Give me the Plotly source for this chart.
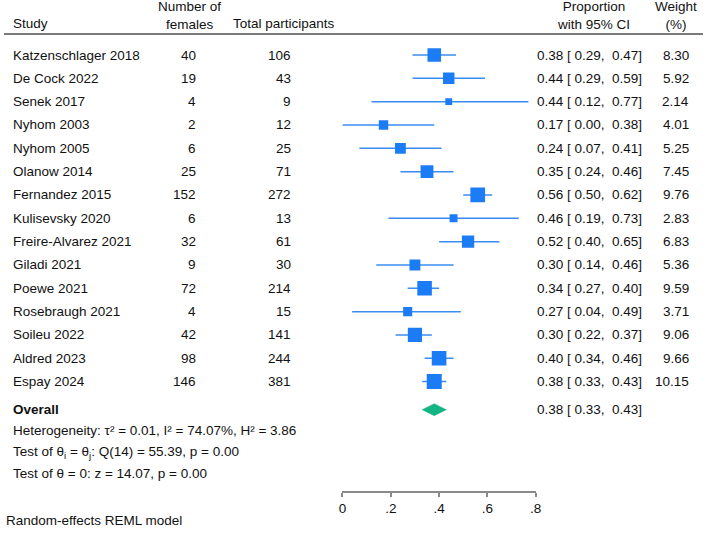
import plotly.graph_objects as go

# ---------------- data ----------------
studies = ["Katzenschlager 2018", "De Cock 2022", "Senek 2017", "Nyhom 2003", "Nyhom 2005",
           "Olanow 2014", "Fernandez 2015", "Kulisevsky 2020", "Freire-Alvarez 2021", "Giladi 2021",
           "Poewe 2021", "Rosebraugh 2021", "Soileu 2022", "Aldred 2023", "Espay 2024"]
females = [40, 19, 4, 2, 6, 25, 152, 6, 32, 9, 72, 4, 42, 98, 146]
totals = [106, 43, 9, 12, 25, 71, 272, 13, 61, 30, 214, 15, 141, 244, 381]
prop = [0.38, 0.44, 0.44, 0.17, 0.24, 0.35, 0.56, 0.46, 0.52, 0.30, 0.34, 0.27, 0.30, 0.40, 0.38]
ci_lo = [0.29, 0.29, 0.12, 0.00, 0.07, 0.24, 0.50, 0.19, 0.40, 0.14, 0.27, 0.04, 0.22, 0.34, 0.33]
ci_hi = [0.47, 0.59, 0.77, 0.38, 0.41, 0.46, 0.62, 0.73, 0.65, 0.46, 0.40, 0.49, 0.37, 0.46, 0.43]
weight = [8.30, 5.92, 2.14, 4.01, 5.25, 7.45, 9.76, 2.83, 6.83, 5.36, 9.59, 3.71, 9.06, 9.66, 10.15]
overall_est, overall_lo, overall_hi = 0.38, 0.33, 0.43
tick_vals = [0, 0.2, 0.4, 0.6, 0.8]
tick_text = ["0", ".2", ".4", ".6", ".8"]
stats_lines = ["Heterogeneity: \u03c4\u00b2 = 0.01, I\u00b2 = 74.07%, H\u00b2 = 3.86",
               "Test of \u03b8<sub>i</sub> = \u03b8<sub>j</sub>: Q(14) = 55.39, p = 0.00",
               "Test of \u03b8 = 0: z = 14.07, p = 0.00"]
footnote = "Random-effects REML model"

# ---------------- layout helpers ----------------
W, H = 709, 537
FONT = "Liberation Sans, Arial, Helvetica, sans-serif"
FS = 13.5
TXT = "#111111"
SQ = "#1c7cf6"
LN = "#3a8cf2"
DIA = "#14b483"
ROW0, ROWH = 55.0, 23.33
AX_Y = 490.7
X0_PX, X8_PX = 343.3, 539.3


def px(x):
    return x / W


def py(y):
    return 1 - y / H


def krow(ypix):
    return (ypix - ROW0) / ROWH


rows = list(range(len(studies)))
overall_row = krow(409.7)
stats_rows = [krow(430), krow(452), krow(473)]

fig = go.Figure()

# CI lines
lx, ly = [], []
for k, lo, hi in zip(rows, ci_lo, ci_hi):
    lx += [lo, hi, None]
    ly += [k, k, None]
fig.add_trace(go.Scatter(x=lx, y=ly, mode="lines", line=dict(color=LN, width=1.5),
                         hoverinfo="skip", showlegend=False))

# squares (area proportional to weight)
fig.add_trace(go.Scatter(x=prop, y=rows, mode="markers",
                         marker=dict(symbol="square", color=SQ, opacity=1,
                                     size=[4.71 * w ** 0.5 for w in weight],
                                     line=dict(width=0)),
                         showlegend=False))

# overall diamond
hh = 6 / ROWH
fig.add_trace(go.Scatter(x=[overall_lo, overall_est, overall_hi, overall_est, overall_lo],
                         y=[overall_row, overall_row - hh, overall_row, overall_row + hh, overall_row],
                         mode="lines", fill="toself", fillcolor=DIA,
                         line=dict(color=DIA, width=0.5), showlegend=False))

ann = []


def add(text, x, y, xanchor, yref="y", yanchor="middle", bold=False):
    ann.append(dict(text=("<b>%s</b>" % text) if bold else text, x=x, y=y, xref="paper", yref=yref,
                    xanchor=xanchor, yanchor=yanchor, showarrow=False,
                    font=dict(family=FONT, size=FS, color=TXT)))


def ci_text(p, lo, hi):
    return "%.2f [\u00a0%.2f,\u00a0\u00a0%.2f]" % (p, lo, hi)


for k in rows:
    add(studies[k], px(7), k, "left")
    add(str(females[k]), px(196.5), k, "right")
    add(str(totals[k]), px(293.5), k, "right")
    add(ci_text(prop[k], ci_lo[k], ci_hi[k]), px(649), k, "right")
    add("%.2f" % weight[k], px(697), k, "right")

add("Overall", px(7), overall_row, "left", bold=True)
add(ci_text(overall_est, overall_lo, overall_hi), px(649), overall_row, "right")
for t, r in zip(stats_lines, stats_rows):
    add(t, px(7), r, "left")

# headers
add("Study", px(7), py(23.5), "left", yref="paper")
add("Number of<br>females", px(188), py(16), "center", yref="paper")
add("Total participants", px(284), py(23.5), "center", yref="paper")
add("Proportion<br>with 95% CI", px(597.5), py(16), "center", yref="paper")
add("Weight<br>(%)", px(681.5), py(16), "center", yref="paper")
add(footnote, px(0), py(520), "left", yref="paper")

fig.update_layout(
    width=W, height=H,
    margin=dict(l=0, r=0, t=0, b=0),
    paper_bgcolor="white", plot_bgcolor="white",
    annotations=ann,
    shapes=[dict(type="line", xref="paper", yref="paper", x0=0, x1=1, y0=py(34), y1=py(34),
                 line=dict(color="#7a7a7a", width=1.8))],
    xaxis=dict(domain=[px(X0_PX), px(X8_PX)], range=[0, 0.8], tickvals=tick_vals, ticktext=tick_text,
               showline=True, linecolor="#8a8a8a", linewidth=2, ticks="outside", ticklen=4,
               tickwidth=1.5, tickcolor="#8a8a8a", showgrid=False, zeroline=False,
               tickfont=dict(family=FONT, size=FS, color=TXT)),
    yaxis=dict(domain=[py(AX_Y), 1], range=[krow(AX_Y), krow(0)], visible=False,
               showgrid=False, zeroline=False),
    showlegend=False,
)

fig.write_html("out.html", config={"displayModeBar": False},
               post_script="document.body.style.margin='0';"
                           "document.documentElement.style.overflow='hidden';")
